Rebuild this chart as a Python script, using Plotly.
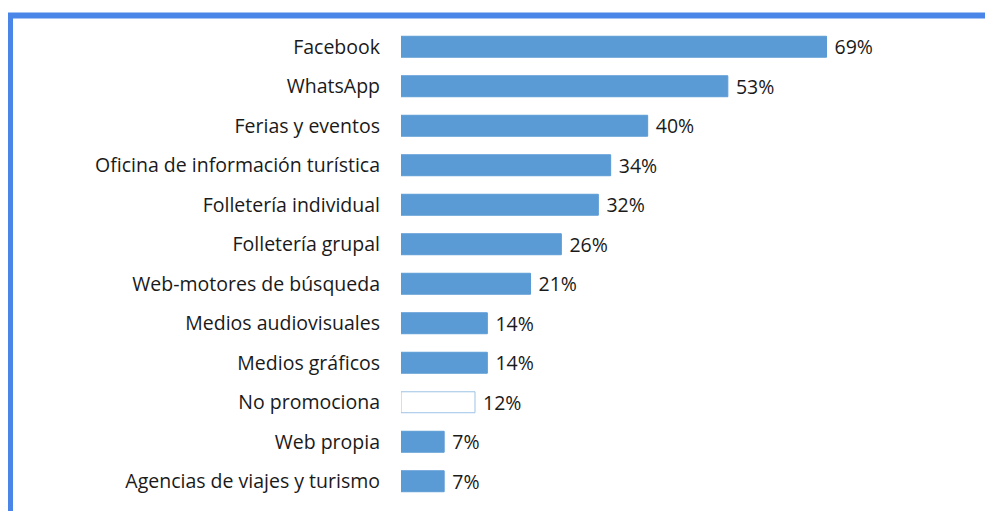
import plotly.graph_objects as go

categories = ["Facebook", "WhatsApp", "Ferias y eventos", "Oficina de información turística",
              "Folletería individual", "Folletería grupal", "Web-motores de búsqueda",
              "Medios audiovisuales", "Medios gráficos", "No promociona", "Web propia",
              "Agencias de viajes y turismo"]
values = [69, 53, 40, 34, 32, 26, 21, 14, 14, 12, 7, 7]
labels = [f"{v}%" for v in values]

BLUE = "#5B9BD5"
fills = ["#FFFFFF" if c == "No promociona" else BLUE for c in categories]
lines = ["#9DC3E6" if c == "No promociona" else BLUE for c in categories]

W, H = 985, 511
ML, MR, MT, MB = 401, 29, 27, 10
XMAX = 90
FONT = dict(family="Open Sans", size=19.5, color="#1a1a1a")

fig = go.Figure(go.Bar(
    y=categories, x=values, orientation="h",
    marker=dict(color=fills, line=dict(color=lines, width=1)),
    text=labels, textposition="outside", cliponaxis=False,
    texttemplate=" %{text}", constraintext="none",
    textfont=FONT, outsidetextfont=FONT,
    width=0.53,
))

pw = W - ML - MR
ph = H - MT - MB
def px(x):
    return (x - ML) / pw
def py(y):
    return 1 - (y - MT) / ph

border = "#4A86E8"
fig.add_shape(type="line", xref="paper", yref="paper",
              x0=px(8), x1=px(985), y0=py(15.5), y1=py(15.5),
              line=dict(color=border, width=6))
fig.add_shape(type="line", xref="paper", yref="paper",
              x0=px(10.5), x1=px(10.5), y0=py(13), y1=py(515),
              line=dict(color=border, width=5))

fig.update_layout(
    width=W, height=H,
    margin=dict(l=ML, r=MR, t=MT, b=MB),
    paper_bgcolor="white", plot_bgcolor="white",
    showlegend=False,
    uniformtext=dict(mode=False),
    xaxis=dict(range=[0, XMAX], visible=False),
    yaxis=dict(autorange="reversed", showgrid=False, showline=False, zeroline=False,
               ticks="", ticklabelstandoff=20, tickfont=FONT),
)

fig.write_html("out.html")
